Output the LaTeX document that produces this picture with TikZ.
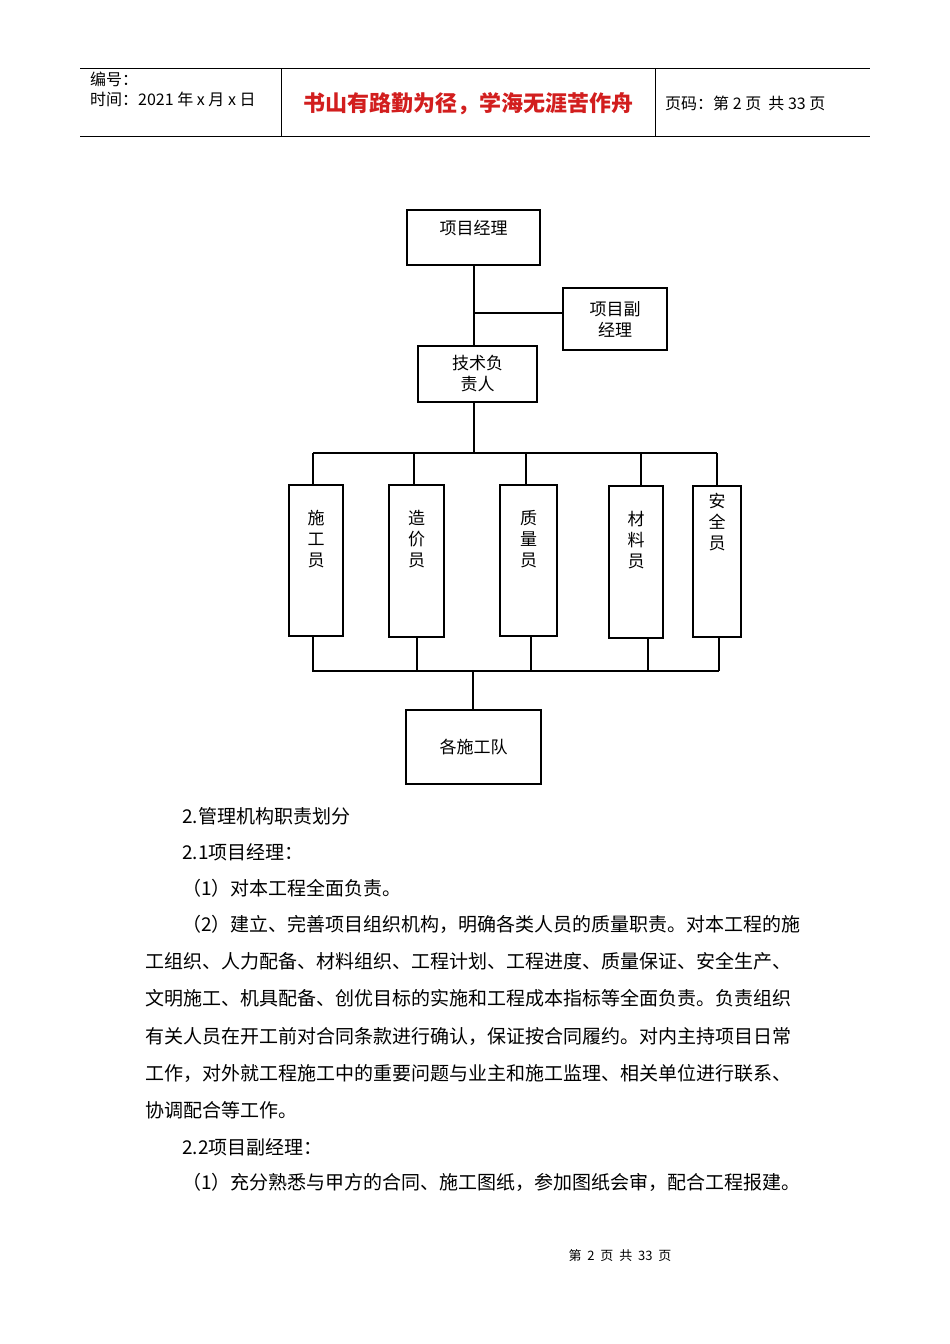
\documentclass[tikz,border=0pt]{standalone}
\usepackage{fontspec}
\setmainfont{Noto Sans CJK SC}
\begin{document}
\begin{tikzpicture}[x=1pt,y=-1pt,
  bx/.style={draw,line width=2pt,inner sep=0pt,font=\fontsize{17}{21}\selectfont,align=center},
  ln/.style={line width=2pt},
  tx/.style={anchor=west,inner sep=0pt,font=\fontsize{19}{20}\selectfont},
  hd/.style={anchor=west,inner sep=0pt,font=\fontsize{16}{17}\selectfont}]
\useasboundingbox (0,0) rectangle (950,1344);
\fill[white] (0,0) rectangle (950,1344);
% header
\draw[line width=0.8pt] (80,68) -- (870,68) (80,136) -- (870,136) (281,68) -- (281,136) (655,68) -- (655,136);
\node[hd] (h1) at (90,79) {编号：};
\node[hd] (h2) at (90,99) {时间：2021 年 x 月 x 日};
\node[inner sep=0pt,font=\fontsize{22}{23}\selectfont\bfseries,text={rgb,255:red,210;green,30;blue,30}] (h3) at (468,104) {书山有路勤为径，学海无涯苦作舟};
\node[hd] (h4) at (665,103) {页码：第 2 页\ \ 共 33 页};
% boxes
\node[bx,minimum width=133,minimum height=55] (pm) at (473.5,237.5) {项目经理\\[0pt]};
\node[bx,minimum width=104,minimum height=62] (dpm) at (615,319) {项目副\\经理};
\node[bx,minimum width=119,minimum height=56] (tech) at (477.5,374) {技术负\\责人};
\node[bx,minimum width=54,minimum height=151,text depth=45pt] (a) at (316,560.5) {施\\工\\员};
\node[bx,minimum width=55,minimum height=152,text depth=45pt] (b) at (416.5,561) {造\\价\\员};
\node[bx,minimum width=57,minimum height=151,text depth=45pt] (c) at (528.5,560.5) {质\\量\\员};
\node[bx,minimum width=54,minimum height=152,text depth=45pt] (d) at (636,562) {材\\料\\员};
\node[bx,minimum width=48,minimum height=151,text depth=80pt] (e) at (717,561.5) {安\\全\\员};
\node[bx,minimum width=135,minimum height=74] (team) at (473.5,747) {各施工队};
% connectors
\coordinate (j1) at (474,313);
\coordinate (j2) at (474,453);
\coordinate (j3) at (473,671);
\draw[ln] (pm.south -| j1) -- (tech.north -| j1);
\draw[ln] (j1) -- (dpm.west |- j1);
\draw[ln] (tech.south -| j2) -- (j2);
\draw[ln] (313,453) -- (717,453);
\foreach \n/\x in {a/313,b/414,c/526,d/641,e/717} \draw[ln] (\x,453) -- (\n.north -| \x,0);
\draw[ln] (312,671) -- (719,671);
\foreach \n/\x in {a/313,b/417,c/531,d/648,e/719} \draw[ln] (\n.south -| \x,0) -- (\x,671);
\draw[ln] (j3) -- (team.north -| j3);
% body text
\node[tx] (t1) at (182,816) {2.管理机构职责划分};
\node[tx] (t2) at (182,852) {2.1项目经理：};
\node[tx] (t3) at (182,888) {（1）对本工程全面负责。};
\node[tx] (t4) at (182,924) {（2）建立、完善项目组织机构，明确各类人员的质量职责。对本工程的施};
\node[tx] (t5) at (145,961) {工组织、人力配备、材料组织、工程计划、工程进度、质量保证、安全生产、};
\node[tx] (t6) at (145,998) {文明施工、机具配备、创优目标的实施和工程成本指标等全面负责。负责组织};
\node[tx] (t7) at (145,1036) {有关人员在开工前对合同条款进行确认，保证按合同履约。对内主持项目日常};
\node[tx] (t8) at (145,1073) {工作，对外就工程施工中的重要问题与业主和施工监理、相关单位进行联系、};
\node[tx] (t9) at (145,1110) {协调配合等工作。};
\node[tx] (t10) at (182,1147) {2.2项目副经理：};
\node[tx] (t11) at (182,1182) {（1）充分熟悉与甲方的合同、施工图纸，参加图纸会审，配合工程报建。};
\node[inner sep=0pt,font=\fontsize{13}{15}\selectfont] (ft) at (620,1256) {第\ \ 2\ \ 页\ \ 共\ \ 33\ \ 页};
\end{tikzpicture}
\end{document}
